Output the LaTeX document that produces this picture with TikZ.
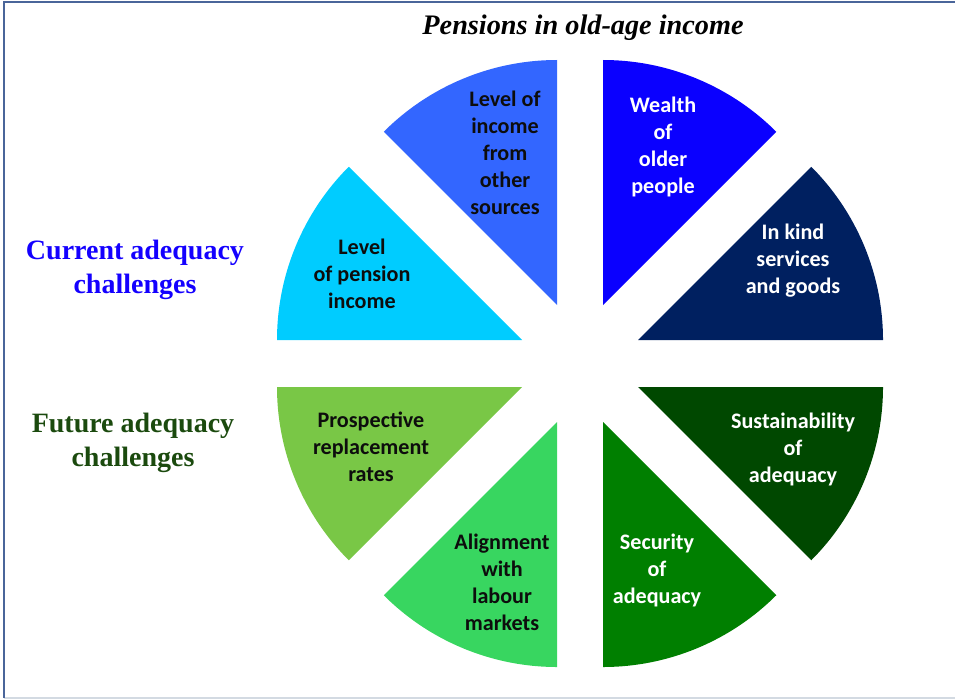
\documentclass[tikz,border=0pt]{standalone}
\usepackage{fontspec}
\setmainfont{Liberation Serif}
\newfontfamily\calib{Carlito}
\definecolor{cPension}{HTML}{00CCFF}
\definecolor{cOther}{HTML}{3366FF}
\definecolor{cWealth}{HTML}{0A00FF}
\definecolor{cKind}{HTML}{002060}
\definecolor{cSust}{HTML}{004800}
\definecolor{cSec}{HTML}{007F00}
\definecolor{cAlign}{HTML}{38D660}
\definecolor{cProsp}{HTML}{79C746}
\definecolor{cFrame}{HTML}{4A659A}
\definecolor{cFrameB}{HTML}{D3DAE2}
\definecolor{cCurrent}{HTML}{1400FF}
\definecolor{cFuture}{HTML}{1B4A0E}
\definecolor{cDark}{HTML}{0D0D0D}
\begin{document}
\begin{tikzpicture}[x=0.75pt,y=-0.75pt,
  slicetext/.style={align=center,font=\calib\bfseries\fontsize{16.6}{20.25}\selectfont,inner sep=0pt},
  sidelabel/.style={align=center,font=\bfseries\fontsize{21}{25}\selectfont,inner sep=0pt},
  titletext/.style={font=\bfseries\itshape\fontsize{21.2}{24}\selectfont,inner sep=0pt},
  framestyle/.style={draw=cFrame,line width=1.5pt}]
\useasboundingbox (0,0) rectangle (955,699);
% frame
\draw[cFrameB,line width=1.2pt] (3.5,698) -- (955,698);
\draw[framestyle] (3.5,698) -- (3.5,2) -- (955,2);
% wedges (radius 245px = 183.75pt)
\def\R{183.75pt}
\coordinate (aTL) at (522,340);
\coordinate (aTLV) at (557,305);
\coordinate (aTRV) at (603,305);
\coordinate (aTR) at (638,340);
\coordinate (aBR) at (638,387);
\coordinate (aBRV) at (603,422);
\coordinate (aBLV) at (557,422);
\coordinate (aBL) at (522,387);
\fill[cPension] (aTL) -- ++(135:\R) arc[start angle=135,end angle=180,radius=\R] -- cycle;
\fill[cOther] (aTLV) -- ++(90:\R) arc[start angle=90,end angle=135,radius=\R] -- cycle;
\fill[cWealth] (aTRV) -- ++(45:\R) arc[start angle=45,end angle=90,radius=\R] -- cycle;
\fill[cKind] (aTR) -- ++(0:\R) arc[start angle=0,end angle=45,radius=\R] -- cycle;
\fill[cSust] (aBR) -- ++(-45:\R) arc[start angle=-45,end angle=0,radius=\R] -- cycle;
\fill[cSec] (aBRV) -- ++(-90:\R) arc[start angle=-90,end angle=-45,radius=\R] -- cycle;
\fill[cAlign] (aBLV) -- ++(-135:\R) arc[start angle=-135,end angle=-90,radius=\R] -- cycle;
\fill[cProsp] (aBL) -- ++(180:\R) arc[start angle=180,end angle=225,radius=\R] -- cycle;
% slice texts
\node[slicetext,text=cDark] (tPension) at (362,274) {Level\\of pension\\income};
\node[slicetext,text=cDark] (tOther) at (505,153) {Level of\\income\\from\\other\\sources};
\node[slicetext,text=white] (tWealth) at (663,147) {Wealth\\of\\older\\people};
\node[slicetext,text=white] (tKind) at (793,261) {In kind\\services\\and goods};
\node[slicetext,text=white] (tSust) at (793,449) {Sustainability\\of\\adequacy};
\node[slicetext,text=white] (tSec) at (657,570) {Security\\of\\adequacy};
\node[slicetext,text=cDark] (tAlign) at (502,582) {Alignment\\with\\labour\\markets};
\node[slicetext,text=cDark] (tProsp) at (371,447) {Prospective\\replacement\\rates};
% side labels and title
\node[sidelabel,text=cCurrent] (lCurrent) at (135,270) {Current adequacy\\challenges};
\node[sidelabel,text=cFuture] (lFuture) at (133,443) {Future adequacy\\challenges};
\node[titletext] (title) at (583,28) {Pensions in old-age income};
\end{tikzpicture}
\end{document}
